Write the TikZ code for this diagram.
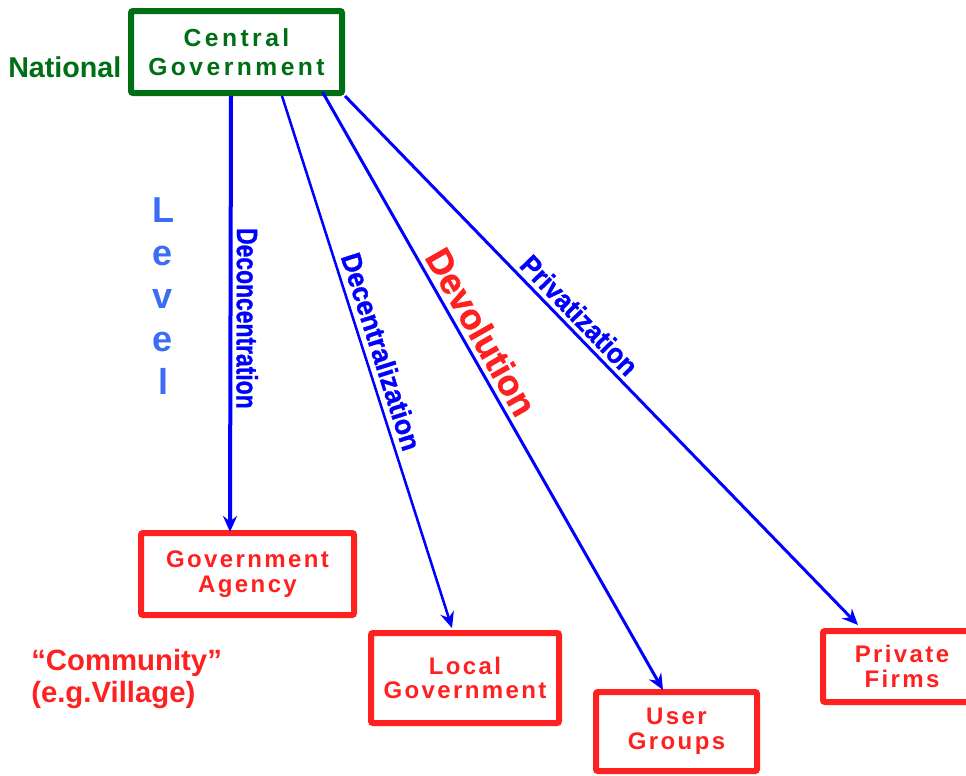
\documentclass[tikz,border=0pt]{standalone}
\usepackage{fontspec}
\setmainfont{Liberation Sans}
\newfontfamily\capfont[LetterSpace=14]{Liberation Sans}
\newfontfamily\boxfont[LetterSpace=10]{Liberation Sans}
\newfontfamily\heavyfont[FakeBold=1.2]{Liberation Sans Bold}
\usetikzlibrary{arrows.meta,calc}
\definecolor{govgreen}{RGB}{0,110,20}
\definecolor{boxred}{RGB}{255,32,32}
\definecolor{flowblue}{RGB}{0,0,255}
\definecolor{levelblue}{RGB}{60,110,245}
\begin{document}
\begin{tikzpicture}[x=0.75pt, y=-0.75pt,
  govbox/.style={draw=govgreen, line width=4.5pt, rounded corners=1.5pt, inner sep=0pt, align=center,
    text=govgreen, font=\capfont\bfseries\fontsize{18.5}{21.75}\selectfont},
  unitbox/.style={draw=boxred, line width=4.5pt, rounded corners=1.5pt, inner sep=0pt, align=center,
    text=boxred, font=\boxfont\bfseries\fontsize{18}{18.6}\selectfont},
  flow/.style={draw=flowblue, -{Stealth[length=12pt, width=10.5pt, inset=4pt]}},
  flowlabel/.style={sloped, allow upside down, above, text=flowblue, font=\heavyfont\fontsize{21}{21}\selectfont}]
  \useasboundingbox (0,0) rectangle (966,775);
  % boxes
  \node[govbox, minimum width=158.25pt, minimum height=61.5pt] (cg) at (236.5,52) {Central\\Government};
  \node[unitbox, minimum width=159.75pt, minimum height=61.5pt] (ga) at (247.5,574) {Government\\Agency};
  \node[unitbox, minimum width=141pt, minimum height=67.5pt] (lg) at (465,678) {Local\\Government};
  \node[unitbox, minimum width=120.75pt, minimum height=59.25pt] (ug) at (676.5,731.5) {User\\Groups};
  \node[unitbox, minimum width=118.5pt, minimum height=53.25pt] (pf) at (902,666.5) {Private\\Firms};
  % side labels
  \node[anchor=base west, inner sep=0pt, text=govgreen, font=\bfseries\fontsize{21.5}{21.5}\selectfont] (national) at (8,77) {National};
  \node[align=center, inner sep=0pt, text=levelblue, font=\bfseries\fontsize{27}{32.25}\selectfont] (level) at (163,296) {L\\e\\v\\e\\l};
  \node[anchor=north west, align=left, inner sep=0pt, text=boxred, font=\bfseries\fontsize{22}{24}\selectfont] (community) at (31,649) {“Community”\\(e.g.Village)};
  % arrows
  \draw[flow, line width=3pt] ($(cg.south)+(-5.5,0)$) -- node[flowlabel, pos=0.51, inner sep=3pt, font=\heavyfont\fontsize{22}{22}\selectfont] {\scalebox{0.78}[1]{Deconcentration}} ($(ga.north)+(-17.5,2)$);
  \draw[flow, line width=1.9pt] ($(cg.south)+(45.5,0)$) -- node[flowlabel, pos=0.49, inner sep=4pt] {\scalebox{0.95}[1]{Decentralization}} ($(lg.north)+(-13,-2)$);
  \draw[flow, line width=2.25pt] ($(cg.south)+(86,-4)$) -- node[flowlabel, pos=0.417, inner sep=3.5pt, text=boxred, font=\heavyfont\fontsize{27}{27}\selectfont] {Devolution} ($(ug.north)+(-13.5,1)$);
  \draw[flow, line width=2.25pt] (cg.south east) -- node[flowlabel, pos=0.435, inner sep=3pt] {\scalebox{0.93}[1]{Privatization}} ($(pf.north)+(-44,-3)$);
\end{tikzpicture}
\end{document}
